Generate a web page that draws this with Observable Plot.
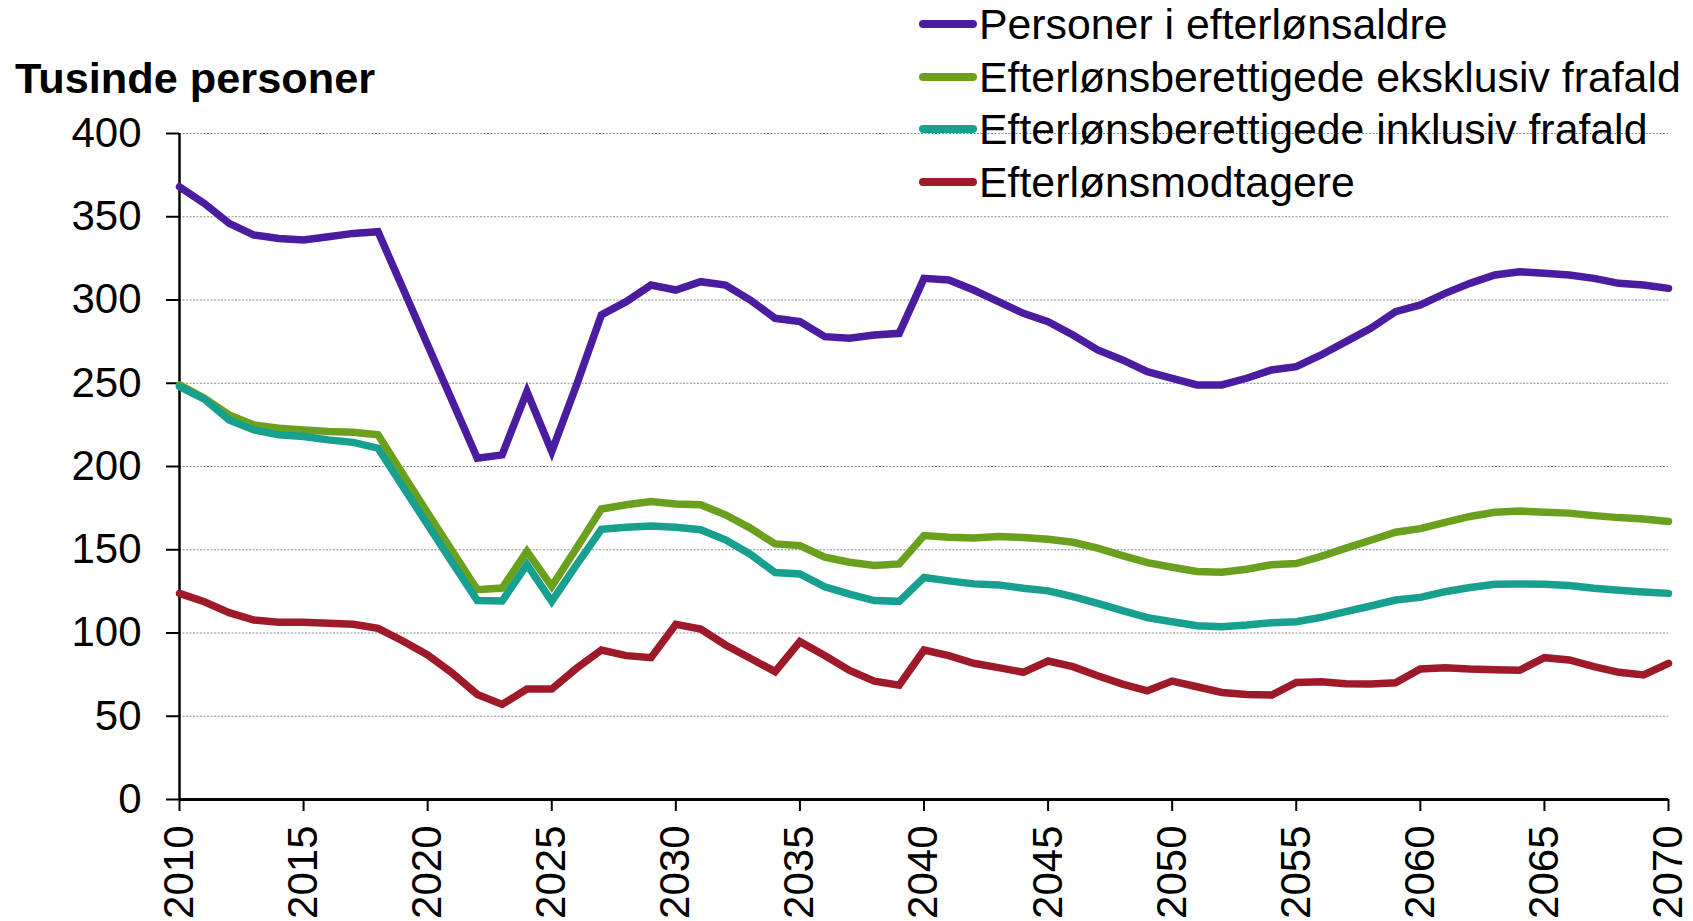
<!DOCTYPE html>
<html>
<head>
<meta charset="utf-8">
<script src="https://cdn.jsdelivr.net/npm/d3@7"></script>
<script src="https://cdn.jsdelivr.net/npm/@observablehq/plot@0.6"></script>
<style>
html, body { margin: 0; padding: 0; background: #fff; }
#wrap { position: relative; width: 1693px; height: 921px; font-family: "Liberation Sans", Arial, Helvetica, sans-serif; color: #000; }
#wrap svg { position: absolute; left: 0; top: 0; overflow: visible; }
#title { position: absolute; left: 15px; top: 57px; font-size: 43.3px; line-height: 43px; font-weight: bold; white-space: nowrap; z-index: 2; }
#legend { position: absolute; left: 919px; top: -2px; z-index: 2; }
.row { display: flex; align-items: center; height: 52.6px; }
.sw { width: 58px; height: 8px; border-radius: 4px; margin-right: 2px; flex: none; }
.lab { font-size: 42.8px; line-height: 52.6px; white-space: nowrap; }
</style>
</head>
<body>
<div id="wrap">
  <div id="title"></div>
  <div id="legend"></div>
</div>
<script>
// ---- Data (thousand persons) ----
const titleText = "Tusinde personer";
const seriesNames = [
  "Personer i efterlønsaldre",
  "Efterlønsberettigede eksklusiv frafald",
  "Efterlønsberettigede inklusiv frafald",
  "Efterlønsmodtagere"
];
const seriesColors = ["#4B1C9F", "#6B9F1E", "#17A08F", "#9E1A2B"];

const years = [
  2010, 2011, 2012, 2013, 2014, 2015, 2016, 2017, 2018, 2019,
  2020, 2021, 2022, 2023, 2024, 2025, 2026, 2027, 2028, 2029,
  2030, 2031, 2032, 2033, 2034, 2035, 2036, 2037, 2038, 2039,
  2040, 2041, 2042, 2043, 2044, 2045, 2046, 2047, 2048, 2049,
  2050, 2051, 2052, 2053, 2054, 2055, 2056, 2057, 2058, 2059,
  2060, 2061, 2062, 2063, 2064, 2065, 2066, 2067, 2068, 2069,
  2070
];

const personerIEfterloensalder = [
  368, 358, 346, 339, 337, 336, 338, 340, 341, 307,
  273, 239, 205, 207, 245, 209, 249, 291, 299, 309,
  306, 311, 309, 300, 289, 287, 278, 277, 279, 280,
  313, 312, 306, 299, 292, 287, 279, 270, 264, 257,
  253, 249, 249, 253, 258, 260, 267, 275, 283, 293,
  297, 304, 310, 315, 317, 316, 315, 313, 310, 309,
  307
];

const berettigedeEksklFrafald = [
  249, 241, 231, 225, 223, 222, 221, 220.5, 219, 195.5,
  172, 149, 126, 127, 149, 128, 151, 174.5, 177, 179,
  177.5, 177, 171, 163, 153.5, 152.5, 145.5, 142.5, 140.5, 141.5,
  158.5, 157.5, 157, 158, 157.3, 156.3, 154.5, 151, 146.5, 142.3,
  139.5, 137, 136.5, 138.3, 141, 141.7, 146, 151, 155.7, 160.5,
  162.7, 166.5, 170, 172.5, 173.3, 172.5, 172, 170.5, 169.3, 168.5,
  167
];

const berettigedeInklFrafald = [
  248, 240.5, 228, 222, 219, 218, 216, 214.5, 211, 188,
  165, 142, 119.5, 119.2, 141, 119, 141, 162.3, 163.5, 164.3,
  163.5, 162, 156, 147.3, 136.3, 135.5, 127.7, 123.3, 119.5, 119,
  133.3, 131.3, 129.5, 128.9, 126.9, 125.3, 121.8, 117.8, 113.4, 109.2,
  106.8, 104.4, 103.8, 104.8, 106.2, 106.8, 109.4, 112.8, 116.2, 119.8,
  121.4, 124.8, 127.3, 129.3, 129.5, 129.3, 128.5, 126.9, 125.7, 124.6,
  123.8
];

const efterloensmodtagere = [
  123.8, 118.8, 112.2, 107.8, 106.4, 106.4, 105.8, 105.2, 102.8, 95.2,
  86.8, 75.8, 63.1, 57.1, 66.3, 66.3, 78.8, 89.8, 86.4, 85.2,
  105.2, 102.4, 92.8, 84.8, 76.8, 94.8, 86.5, 77.5, 71.1, 68.7,
  89.8, 86.4, 81.8, 79.2, 76.4, 83.2, 79.8, 74.3, 69.3, 65.3,
  71.1, 67.7, 64.3, 63.1, 62.7, 70.3, 70.7, 69.5, 69.3, 70.1,
  78.4, 79.2, 78.4, 78, 77.6, 85.2, 83.8, 79.8, 76.4, 74.8,
  81.8
];

const xTicks = [2010, 2015, 2020, 2025, 2030, 2035, 2040, 2045, 2050, 2055, 2060, 2065, 2070];
const yTicks = [0, 50, 100, 150, 200, 250, 300, 350, 400];
const gridTicks = [50, 100, 150, 200, 250, 300, 350, 400];

// ---- Build ----
const allSeries = [personerIEfterloensalder, berettigedeEksklFrafald, berettigedeInklFrafald, efterloensmodtagere];
const rows = [];
allSeries.forEach((vals, s) => vals.forEach((v, i) => rows.push({year: years[i], value: v, series: seriesNames[s]})));

document.getElementById("title").textContent = titleText;
const legend = document.getElementById("legend");
seriesNames.forEach((name, i) => {
  const r = document.createElement("div");
  r.className = "row";
  const sw = document.createElement("div");
  sw.className = "sw";
  sw.style.background = seriesColors[i];
  const lab = document.createElement("div");
  lab.className = "lab";
  lab.textContent = name;
  r.appendChild(sw); r.appendChild(lab);
  legend.appendChild(r);
});

const font = "Liberation Sans, Arial, Helvetica, sans-serif";
const chart = Plot.plot({
  width: 1693,
  height: 921,
  marginLeft: 179,
  marginRight: 25,
  marginTop: 133,
  marginBottom: 122,
  style: {fontFamily: font, fontSize: "42px", background: "transparent", color: "#000"},
  x: {domain: [xTicks[0], xTicks[xTicks.length - 1]], label: null},
  y: {domain: [yTicks[0], yTicks[yTicks.length - 1]], label: null},
  color: {domain: seriesNames, range: seriesColors},
  marks: [
    Plot.gridY(gridTicks, {stroke: "#8a8a8a", strokeOpacity: 1, strokeWidth: 1, strokeDasharray: "2,1.5"}),
    Plot.axisY(yTicks, {tickSize: 13, tickPadding: 25, tickFormat: d => String(d), fontSize: 42, strokeWidth: 2, stroke: "#000"}),
    Plot.axisX(xTicks, {tickSize: 12, tickPadding: 14, tickRotate: -90, tickFormat: d => String(d), fontSize: 42, strokeWidth: 2, stroke: "#000"}),
    Plot.ruleX([xTicks[0]], {stroke: "#000", strokeWidth: 2.5}),
    Plot.ruleY([yTicks[0]], {stroke: "#000", strokeWidth: 3}),
    Plot.line(rows, {x: "year", y: "value", z: "series", stroke: "series", strokeWidth: 7.5, strokeLinejoin: "miter", strokeMiterlimit: 3, strokeLinecap: "round"})
  ]
});
document.getElementById("wrap").appendChild(chart);
</script>
</body>
</html>
